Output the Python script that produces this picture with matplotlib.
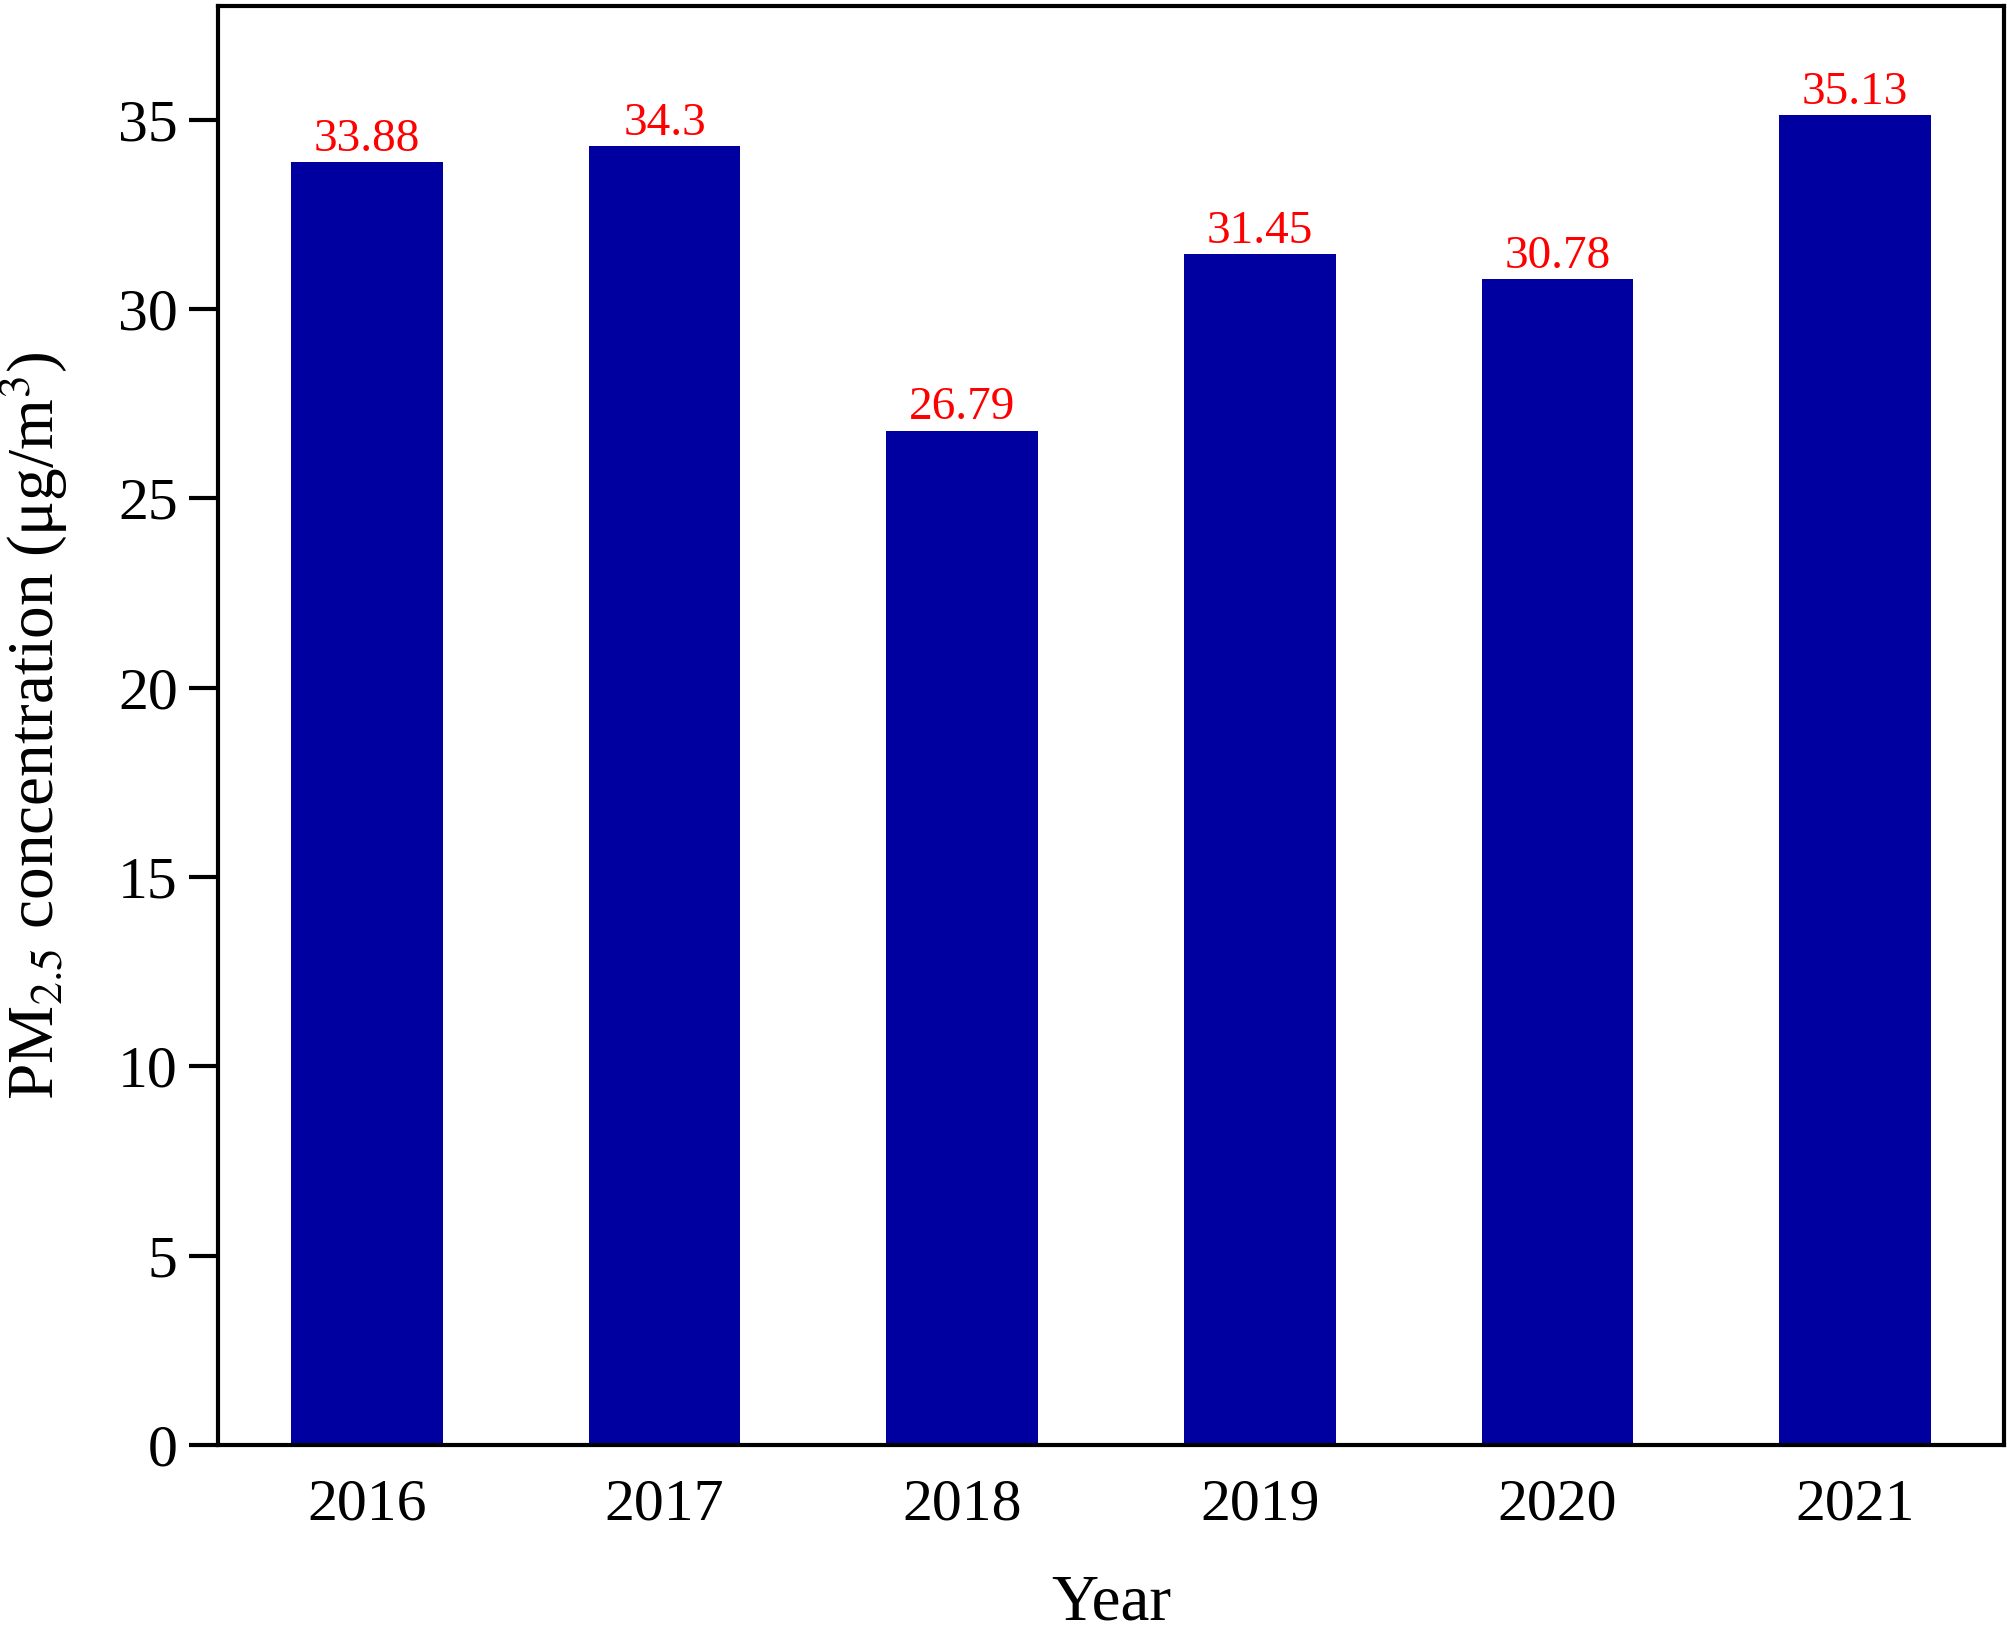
import numpy as np
import matplotlib
matplotlib.use("Agg")
import matplotlib.pyplot as plt

# dati
years = ['2016', '2017', '2018', '2019', '2020', '2021']
pm25 = [33.88, 34.3, 26.79, 31.45, 30.78, 35.13]
yticks = [0, 5, 10, 15, 20, 25, 30, 35]

plt.rcParams['font.family'] = ['Liberation Serif', 'DejaVu Serif']
plt.rcParams['mathtext.fontset'] = 'stix'

fig = plt.figure(figsize=(20.08, 16.35), dpi=100)
ax = fig.add_axes([0.1086, 0.1162, 0.8894, 0.8801])

x = np.arange(len(years))
bars = ax.bar(x, pm25, width=0.51, color='#0000A0', zorder=2)

# etichette dei valori sopra le barre
for xi, v in zip(x, pm25):
    ax.annotate(f'{v:g}', (xi, v), xytext=(0, 8), textcoords='offset points',
                ha='center', va='baseline', color='#FF0000', fontsize=34)

ax.set_xlim(-0.5, 5.5)
ax.set_ylim(0, 38)
ax.set_xticks(x)
ax.set_xticklabels(years)
ax.set_yticks(yticks)

ax.tick_params(axis='x', length=0, pad=24, labelsize=43)
ax.tick_params(axis='y', direction='out', length=21, width=3, pad=8, labelsize=43)

for sp in ax.spines.values():
    sp.set_linewidth(3)

ax.set_xlabel('Year', fontsize=47, va='baseline')
ax.xaxis.set_label_coords(0.5, -0.121)
ax.set_ylabel(r'PM$_{2.5}$ concentration (μg/m$^{3}$)', fontsize=47)
ax.yaxis.set_label_coords(-0.083, 0.5)

fig.savefig('out.png', dpi=100)
